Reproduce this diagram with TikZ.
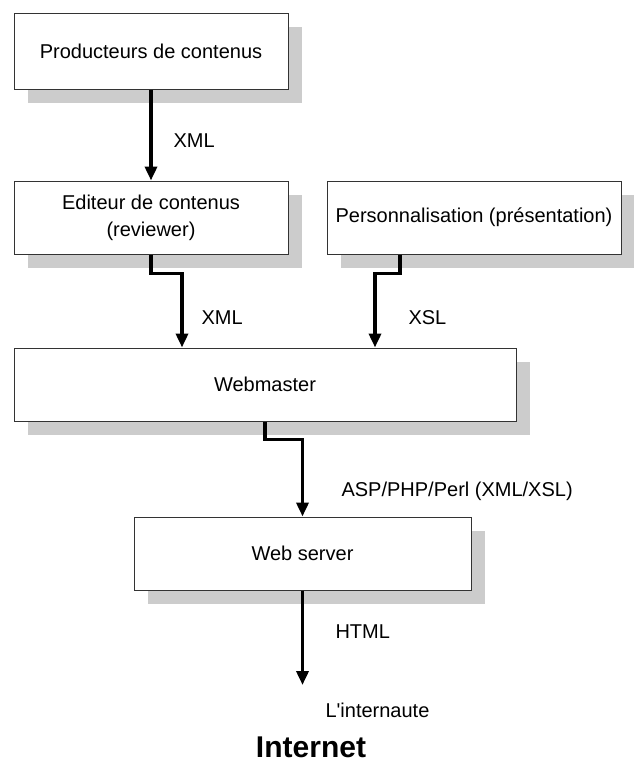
\documentclass[tikz,border=0pt]{standalone}
\usepackage{fontspec}
\setmainfont{Liberation Sans}
\usepackage{tikz}
\usetikzlibrary{arrows.meta,shadows}

\begin{document}
\begin{tikzpicture}[
            x=1pt, y=-1pt,
            block/.style={rectangle, draw=black!80, fill=white, line width=1pt, align=center, inner sep=0pt, minimum height=73pt,
                font=\fontsize{20}{27}\selectfont,
                drop shadow={shadow xshift=14pt, shadow yshift=-14pt, fill=black!20, opacity=1}},
            arrow/.style={line width=3.5pt, -{Triangle[length=14pt,width=12pt]}},
            label/.style={anchor=base west, font=\fontsize{20}{24}\selectfont}
        ]
            \useasboundingbox (0,0) rectangle (634,763);

            % Producteurs Block
            \node[block, minimum width=274pt, minimum height=76pt] (producteurs) at (151,51) {Producteurs de contenus};

            % Editeur Block
            \node[block, minimum width=274pt] (editeur) at (151,217.5) {Editeur de contenus\\(reviewer)};

            % Personnalisation Block
            \node[block, minimum width=294pt] (perso) at (474,217.5) {Personnalisation (présentation)};

            % Webmaster Block
            \node[block, minimum width=502pt] (webmaster) at (265,384.5) {Webmaster};

            % Web server Block
            \node[block, minimum width=337pt] (webserver) at (302.5,553.5) {Web server};

            % Final target
            \coordinate (internaute) at (302.5,685);
            \node[label] (internaute_label) at (322,717) {L\textquotesingle internaute};
            \node[anchor=base, font=\fontsize{30}{36}\selectfont\bfseries] (internet) at (311,757.5) {Internet};

            % Arrows
            \draw[arrow] (producteurs) -- (editeur);
            \node[label] (xml_a) at (170,147) {XML};
            \draw[arrow] (editeur.south) -- ++(0,19) -| ([xshift=-83pt]webmaster.north);
            \node[label] (xml_b) at (198,324) {XML};
            \draw[arrow] ([xshift=-74pt]perso.south) -- ++(0,19) -| ([xshift=110pt]webmaster.north);
            \node[label] (xsl) at (405,324) {XSL};
            \draw[arrow] (webmaster.south) -- ++(0,18) -| (webserver.north);
            \node[label] (asp) at (338,496) {ASP/PHP/Perl (XML/XSL)};
            \draw[arrow] (webserver.south) -- (internaute);
            \node[label] (html) at (332,638) {HTML};

        \end{tikzpicture}
\end{document}
